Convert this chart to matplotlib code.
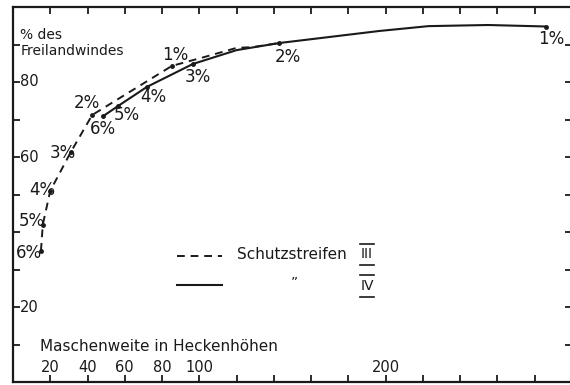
import numpy as np
import matplotlib
matplotlib.use("Agg")
import matplotlib.pyplot as plt

# Schutzstreifen III (gestrichelt)
x_iii = [15, 16, 20, 31, 42.5, 85.3, 103, 120, 128.6, 143]
y_iii = [35, 42, 51, 61.3, 71.2, 84.3, 86.7, 89.1, 89.3, 90.4]
lab_iii = ["6%", "5%", "4%", "3%", "2%", "1%", "", "", "", ""]
off_iii = [(-12, -2), (-11, 3), (-8, 1), (-8, -1), (-5, 12), (3, 11),
           (0, 0), (0, 0), (0, 0), (0, 0)]

# Schutzstreifen IV (durchgezogen)
x_iv = [48.4, 56.4, 71.9, 96.5, 120, 143, 169.8, 196.5, 223, 255, 286]
y_iv = [70.9, 73.6, 78.7, 84.8, 88.5, 90.4, 92.0, 93.6, 94.9, 95.2, 94.8]
lab_iv = ["6%", "5%", "4%", "3%", "", "2%", "", "", "", "", "1%"]
off_iv = [(0, -13), (9, -9), (6, -10), (5, -13), (0, 0), (8, -14),
          (0, 0), (0, 0), (0, 0), (0, 0), (5, -13)]

xtick_labels = [20, 40, 60, 80, 100, 200]
ytick_labels = [80, 60, 20]

ink = "#1a1a1a"

fig = plt.figure(figsize=(5.7, 3.85), dpi=100)
ax = fig.add_axes([13 / 570, 3 / 385, 559 / 570, 375 / 385])
ax.set_xlim(0, 300)
ax.set_ylim(0, 100)

ax.plot(x_iii, y_iii, color=ink, lw=1.4, ls=(0, (4, 3)))
ax.plot(x_iv, y_iv, color=ink, lw=1.5)

# Messpunkte
pts_iii = [i for i, l in enumerate(lab_iii) if l]
pts_iv = [i for i, l in enumerate(lab_iv) if l]
ax.plot([x_iii[i] for i in pts_iii], [y_iii[i] for i in pts_iii], "o", color=ink, ms=2.5)
ax.plot([x_iv[i] for i in pts_iv], [y_iv[i] for i in pts_iv], "o", color=ink, ms=2.5)

for xs, ys, labs, offs in [(x_iii, y_iii, lab_iii, off_iii), (x_iv, y_iv, lab_iv, off_iv)]:
    for x, y, l, o in zip(xs, ys, labs, offs):
        if l:
            ax.annotate(l, (x, y), xytext=o, textcoords="offset pixels",
                        ha="center", va="center", fontsize=12, color=ink)

# Achsen
for s in ax.spines.values():
    s.set_linewidth(1.6)
    s.set_color(ink)
ax.set_xticks(np.arange(20, 300, 20))
ax.set_yticks(np.arange(10, 100, 10))
ax.tick_params(direction="in", length=5, width=1.3, color=ink,
               top=True, right=True, labelbottom=False, labelleft=False)

for v in xtick_labels:
    ax.text(v, 4, str(v), ha="center", va="center", fontsize=10.5, color=ink)
for v in ytick_labels:
    ax.text(3.5, v, str(v), ha="left", va="center", fontsize=10.5, color=ink)

ax.text(14.5, 9.5, "Maschenweite in Heckenhöhen", ha="left", va="center",
        fontsize=11, color=ink)
ax.text(4, 92.5, "% des", ha="left", va="center", fontsize=10, color=ink)
ax.text(4, 88.3, "Freilandwindes", ha="left", va="center", fontsize=10, color=ink)

# Legende
ax.plot([88, 112], [33.6, 33.6], color=ink, lw=1.4, ls=(0, (4, 3)))
ax.plot([88, 112], [25.9, 25.9], color=ink, lw=1.5)
ax.text(120, 33.9, "Schutzstreifen", ha="left", va="center", fontsize=11, color=ink)
ax.text(151, 26.5, "\u201d", ha="center", va="center", fontsize=10, color=ink)
for txt, yv in [("III", 34.0), ("IV", 25.6)]:
    ax.text(190, yv, txt, ha="center", va="center", fontsize=10, color=ink)
    ax.plot([186, 194], [yv + 2.9, yv + 2.9], color=ink, lw=1.2)
    ax.plot([186, 194], [yv - 2.9, yv - 2.9], color=ink, lw=1.2)

fig.savefig("out.png", dpi=100)
